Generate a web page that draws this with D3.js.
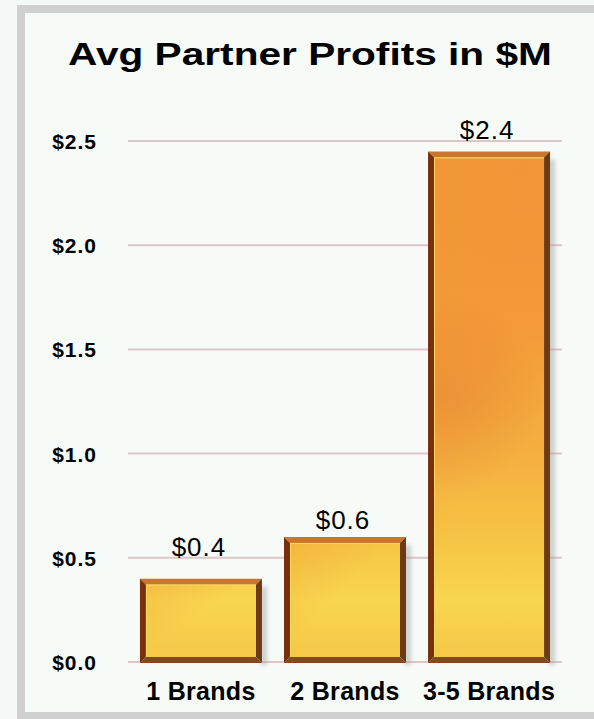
<!DOCTYPE html>
<html>
<head>
<meta charset="utf-8">
<script src="https://cdn.jsdelivr.net/npm/d3@7"></script>
<style>
  body { margin: 0; background: #f4f8f6; }
  svg { display: block; }
</style>
</head>
<body>
<div id="chart"></div>
<script>
// Chart data
const categories = ["1 Brands", "2 Brands", "3-5 Brands"];
const values = [0.4, 0.6, 2.45];
const valueLabels = ["$0.4", "$0.6", "$2.4"];
const yTicks = [0, 0.5, 1.0, 1.5, 2.0, 2.5];
const titleText = "Avg Partner Profits in $M";

const W = 594, H = 719;
const margin = {top: 141, right: 32, bottom: 57, left: 128};
const width = W - margin.left - margin.right,
    height = H - margin.top - margin.bottom;
const font = "'Liberation Sans', Arial, sans-serif";

const svg = d3.select("#chart").append("svg")
    .attr("width", W)
    .attr("height", H);

// panel frame
svg.append("rect")
    .attr("x", 0).attr("y", 0).attr("width", W).attr("height", H)
    .attr("fill", "#f4f8f6");
svg.append("rect")
    .attr("x", 21).attr("y", 9).attr("width", W).attr("height", 707)
    .attr("fill", "#f6fbf8")
    .attr("stroke", "#d0d0d0")
    .attr("stroke-width", 8);

const chart = svg.append("g")
    .attr("transform", `translate(${margin.left},${margin.top})`);

// gradients for the bar faces (chart coordinates)
const defs = svg.append("defs");
const lg = defs.append("linearGradient")
    .attr("id", "face")
    .attr("gradientUnits", "userSpaceOnUse")
    .attr("x1", 0).attr("y1", 9).attr("x2", 0).attr("y2", height);
[["0%", "#f29438"], ["35%", "#f39a3a"], ["60%", "#f5b040"], ["76%", "#f6c444"], ["88%", "#f8d650"], ["100%", "#f5c646"]]
    .forEach(([o, c]) => lg.append("stop").attr("offset", o).attr("stop-color", c));

const rg = defs.append("radialGradient")
    .attr("id", "spot")
    .attr("gradientUnits", "userSpaceOnUse")
    .attr("cx", 315).attr("cy", 255).attr("r", 100);
rg.append("stop").attr("offset", "0%").attr("stop-color", "#e07830").attr("stop-opacity", 0.45);
rg.append("stop").attr("offset", "100%").attr("stop-color", "#e07830").attr("stop-opacity", 0);

const tint = defs.append("linearGradient")
    .attr("id", "tint")
    .attr("x1", 0).attr("y1", 0).attr("x2", 1).attr("y2", 1);
tint.append("stop").attr("offset", "0%").attr("stop-color", "#ee9a30").attr("stop-opacity", 0.35);
tint.append("stop").attr("offset", "45%").attr("stop-color", "#ee9a30").attr("stop-opacity", 0);

const shadowBlur = defs.append("filter").attr("id", "blur")
    .attr("x", "-50%").attr("y", "-20%").attr("width", "200%").attr("height", "140%");
shadowBlur.append("feGaussianBlur").attr("stdDeviation", 2);

const x = d3.scaleBand()
    .domain(categories)
    .range([0, width])
    .paddingInner(0.153)
    .paddingOuter(0.083);

const y = d3.scaleLinear()
    .domain([0, 2.5])
    .range([height, 0]);

// gridlines
chart.selectAll(".grid")
    .data(yTicks)
    .enter().append("line")
    .attr("class", "grid")
    .attr("x1", 0).attr("x2", width)
    .attr("y1", d => y(d)).attr("y2", d => y(d))
    .attr("stroke", "#dcc6c6")
    .attr("stroke-width", 2);

// y tick labels
const yAxis = chart.append("g")
    .attr("transform", "translate(-28,0)")
    .call(d3.axisLeft(y).tickValues(yTicks).tickSize(0).tickFormat(d => "$" + d3.format(".1f")(d)));
yAxis.select(".domain").remove();
yAxis.selectAll("text")
    .attr("fill", "#000")
    .attr("dy", "0.36em")
    .style("font-family", font)
    .style("font-weight", "bold")
    .style("font-size", "21px")
    .style("letter-spacing", "1px");

// bars with bevel
const bevel = 6;
const bars = chart.selectAll(".bar")
    .data(values)
    .enter().append("g")
    .attr("class", "bar");

bars.each(function(d, i) {
    const g = d3.select(this);
    const x0 = x(categories[i]), x1 = x0 + x.bandwidth();
    const y0 = y(d), y1 = y(0) + 1;
    const b = bevel;

    // shadow
    g.append("rect")
        .attr("x", x1 - 2).attr("y", y0 + 8)
        .attr("width", 7).attr("height", y1 - y0 - 6)
        .attr("fill", "#9a9a9a").attr("opacity", 0.45)
        .attr("filter", "url(#blur)");

    const pts = a => a.map(p => p.join(",")).join(" ");
    g.append("polygon").attr("points", pts([[x0, y0], [x1, y0], [x1 - b, y0 + b], [x0 + b, y0 + b]]))
        .attr("fill", "#c9762e");
    g.append("polygon").attr("points", pts([[x0, y0], [x0 + b, y0 + b], [x0 + b, y1 - b], [x0, y1]]))
        .attr("fill", "#7a2e0c");
    g.append("polygon").attr("points", pts([[x1, y0], [x1, y1], [x1 - b, y1 - b], [x1 - b, y0 + b]]))
        .attr("fill", "#6c3a14");
    g.append("polygon").attr("points", pts([[x0, y1], [x0 + b, y1 - b], [x1 - b, y1 - b], [x1, y1]]))
        .attr("fill", "#85481a");

    const face = () => g.append("rect")
        .attr("x", x0 + b).attr("y", y0 + b)
        .attr("width", x1 - x0 - 2 * b).attr("height", y1 - y0 - 2 * b);
    face().attr("fill", "url(#face)");
    face().attr("fill", "url(#spot)");
    face().attr("fill", "url(#tint)");

    // thin highlight on the inner edge
    g.append("path")
        .attr("d", `M${x0 + b + 0.5},${y1 - b} V${y0 + b + 0.5} H${x1 - b}`)
        .attr("fill", "none")
        .attr("stroke", "#f8d860")
        .attr("stroke-width", 1);
});

// value labels: sit above the bar, pushed above any gridline they would cross
const labelGap = 8, capH = 18;
function labelY(d) {
    let base = y(d) - labelGap;
    yTicks.forEach(t => {
        const gy = y(t);
        if (gy < base + 1 && gy > base - capH) base = gy - 2;
    });
    return base;
}
chart.selectAll(".val")
    .data(values)
    .enter().append("text")
    .attr("class", "val")
    .attr("x", (d, i) => x(categories[i]) + x.bandwidth() / 2 - 2)
    .attr("y", d => labelY(d))
    .attr("text-anchor", "middle")
    .style("font-family", font)
    .style("font-size", "26px")
    .style("letter-spacing", "1px")
    .attr("fill", "#000")
    .text((d, i) => valueLabels[i]);

// x labels
chart.selectAll(".xlab")
    .data(categories)
    .enter().append("text")
    .attr("class", "xlab")
    .attr("x", d => x(d) + x.bandwidth() / 2)
    .attr("y", height + 38)
    .attr("text-anchor", "middle")
    .style("font-family", font)
    .style("font-weight", "bold")
    .style("font-size", "25px")
    .style("letter-spacing", "0.3px")
    .attr("fill", "#000")
    .text(d => d);

// title, stretched horizontally like the original
const title = svg.append("text")
    .attr("text-anchor", "middle")
    .style("font-family", font)
    .style("font-weight", "bold")
    .style("font-size", "31px")
    .attr("fill", "#000")
    .text(titleText);
const sx = 484 / title.node().getComputedTextLength();
title.attr("transform", `translate(310,65) scale(${sx},1)`);
</script>
</body>
</html>
